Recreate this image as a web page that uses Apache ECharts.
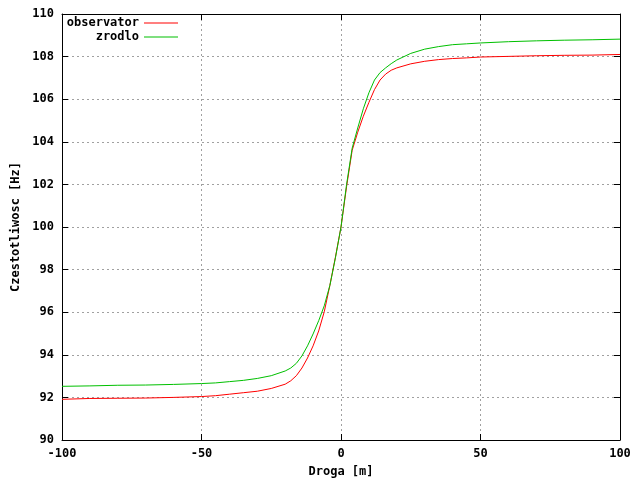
<!DOCTYPE html>
<html>
<head>
<meta charset="utf-8">
<script src="https://cdn.jsdelivr.net/npm/echarts@6/dist/echarts.min.js"></script>
<style>
  html, body { margin: 0; padding: 0; background: #fff; }
  #chart { width: 640px; height: 480px; }
</style>
</head>
<body>
<div id="chart"></div>
<script>
// distance along the road [m]
const droga = [-100, -90, -80, -70, -60, -50, -45, -40, -35, -30, -25, -20, -18, -16, -14, -12, -10, -8, -6, -4, -2,
  0, 2, 4, 6, 8, 10, 12, 14, 16, 18, 20, 25, 30, 35, 40, 45, 50, 60, 70, 80, 90, 100];

// frequency heard by observer [Hz]
const observator = [91.91, 91.95, 91.96, 91.97, 92.00, 92.04, 92.08, 92.15, 92.22, 92.29, 92.42, 92.62, 92.78, 93.02, 93.38, 93.85, 94.42, 95.12, 96.02, 97.25, 98.58,
  100.0, 101.9, 103.6, 104.45, 105.2, 105.85, 106.45, 106.9, 107.18, 107.36, 107.47, 107.66, 107.78, 107.86, 107.91, 107.94, 107.98, 108.01, 108.04, 108.06, 108.07, 108.10];

// frequency of source [Hz]
const zrodlo = [92.52, 92.54, 92.57, 92.58, 92.61, 92.65, 92.68, 92.74, 92.80, 92.89, 93.02, 93.24, 93.38, 93.6, 93.95, 94.42, 94.98, 95.6, 96.3, 97.25, 98.55,
  100.0, 102.0, 103.7, 104.65, 105.55, 106.3, 106.9, 107.25, 107.47, 107.67, 107.84, 108.15, 108.35, 108.47, 108.56, 108.60, 108.64, 108.70, 108.74, 108.77, 108.79, 108.82];

const FONT = 'DejaVu Sans Mono';

const pairs = (ys) => droga.map((x, i) => [x, ys[i]]);

const chart = echarts.init(document.getElementById('chart'));

const tickText = { fontFamily: FONT, fontWeight: 'bold', fontSize: 12, color: '#000' };
const grid_line = { show: true, lineStyle: { color: '#a0a0a0', type: [2, 3], width: 1 } };
const frame = { show: true, onZero: false, lineStyle: { color: '#000', width: 1 } };
const ticks = { show: true, inside: true, length: 6, lineStyle: { color: '#000' } };

const legendBase = {
  orient: 'vertical', align: 'right', right: 462, icon: 'rect',
  itemWidth: 34, itemHeight: 1, padding: 0, textStyle: tickText
};

chart.setOption({
  animation: false,
  backgroundColor: '#fff',
  grid: { left: 62, right: 20, top: 14, bottom: 40, outerBoundsMode: 'none' },
  legend: [
    Object.assign({ data: ['observator'], top: 17 }, legendBase),
    Object.assign({ data: ['zrodlo'], top: 31 }, legendBase)
  ],
  xAxis: [
    {
      type: 'value', min: -100, max: 100, interval: 50,
      name: 'Droga [m]', nameLocation: 'middle', nameGap: 26, nameTextStyle: tickText,
      axisLine: frame, axisTick: ticks, splitLine: grid_line,
      axisLabel: Object.assign({ margin: 8 }, tickText)
    },
    {
      type: 'value', position: 'top', min: -100, max: 100, interval: 50,
      axisLine: frame, axisTick: ticks, splitLine: { show: false }, axisLabel: { show: false }
    }
  ],
  yAxis: [
    {
      type: 'value', min: 90, max: 110, interval: 2,
      name: 'Czestotliwosc [Hz]', nameLocation: 'middle', nameRotate: 90, nameGap: 40, nameTextStyle: tickText,
      axisLine: frame, axisTick: ticks, splitLine: grid_line,
      axisLabel: Object.assign({ margin: 8 }, tickText)
    },
    {
      type: 'value', position: 'right', min: 90, max: 110, interval: 2,
      axisLine: frame, axisTick: ticks, splitLine: { show: false }, axisLabel: { show: false }
    }
  ],
  series: [
    {
      name: 'observator', type: 'line', data: pairs(observator),
      symbol: 'none', lineStyle: { color: '#ff0000', width: 1 }, itemStyle: { color: '#ff0000' }
    },
    {
      name: 'zrodlo', type: 'line', data: pairs(zrodlo),
      symbol: 'none', lineStyle: { color: '#00c000', width: 1 }, itemStyle: { color: '#00c000' }
    }
  ]
});
</script>
</body>
</html>
